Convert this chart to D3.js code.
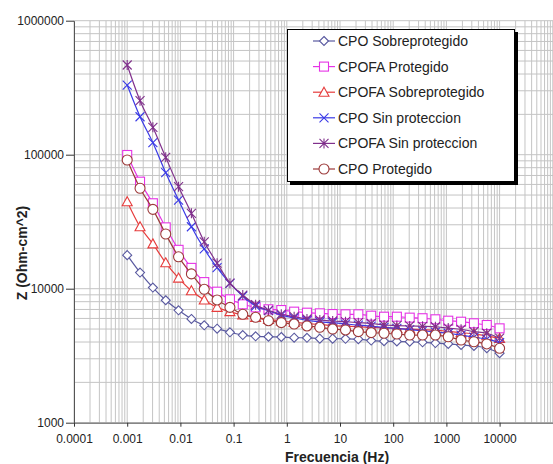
<!DOCTYPE html>
<html>
<head>
<meta charset="utf-8">
<script src="https://cdn.jsdelivr.net/npm/d3@7"></script>
<style>
body { margin: 0; background: #fff; }
text { font-family: "Liberation Sans", Arial, sans-serif; }
</style>
</head>
<body>
<div class="container"></div>
<script>
const wd = 553
const ht = 464

// frecuencias (Hz)
const freq = [0.001, 0.001743, 0.00304, 0.005298, 0.009237, 0.0161, 0.02807, 0.04894, 0.08532, 0.1487,
  0.2593, 0.452, 0.788, 1.374, 2.395, 4.175, 7.279, 12.69, 22.12, 38.57,
  67.24, 117.2, 204.3, 356.2, 621, 1083, 1888, 3292, 5738, 10000]

const cpoSobre = [17800, 13200, 10200, 8200, 6900, 5950, 5330, 5030, 4730, 4510,
  4410, 4380, 4360, 4310, 4300, 4240, 4240, 4230, 4200, 4100,
  4060, 4040, 4020, 3980, 3930, 3870, 3800, 3740, 3600, 3300]
const cpofaProt = [99500, 62900, 43400, 28700, 19500, 14300, 11200, 9500, 8330, 7650,
  7260, 7020, 6930, 6740, 6620, 6550, 6470, 6440, 6440, 6290,
  6180, 6180, 6080, 6020, 5910, 5770, 5670, 5520, 5360, 5060]
const cpofaSobre = [44600, 29000, 21600, 15600, 12000, 9660, 8240, 7260, 6740, 6370,
  6100, 5900, 5750, 5600, 5500, 5400, 5300, 5250, 5200, 5150,
  5100, 5050, 5000, 4950, 4900, 4800, 4700, 4600, 4450, 4250]
const cpoSin = [331000, 192000, 123000, 73400, 45900, 29000, 19800, 14350, 10970, 8820,
  7430, 6850, 6350, 6050, 5800, 5650, 5580, 5450, 5350, 5250,
  5150, 5050, 4950, 4850, 4750, 4650, 4500, 4350, 4200, 3950]
const cpofaSin = [467000, 253000, 160000, 95600, 57700, 36500, 22400, 15500, 11000, 8970,
  7600, 6900, 6450, 6180, 5940, 5840, 5740, 5670, 5580, 5500,
  5360, 5310, 5270, 5240, 5200, 5080, 4980, 4780, 4650, 4270]
const cpoProt = [91300, 56200, 39100, 25600, 17300, 12900, 9900, 8240, 7260, 6440,
  6120, 5770, 5580, 5450, 5270, 5150, 5000, 4920, 4780, 4700,
  4650, 4590, 4510, 4510, 4510, 4380, 4140, 4020, 3870, 3590]

const seriesNames = ["CPO Sobreprotegido", "CPOFA Protegido", "CPOFA Sobreprotegido",
  "CPO Sin proteccion", "CPOFA Sin proteccion", "CPO Protegido"]
const seriesVals = [cpoSobre, cpofaProt, cpofaSobre, cpoSin, cpofaSin, cpoProt]
const seriesCols = ["#5a5aa0", "#e633e6", "#e63c3c", "#3a3ae6", "#80308c", "#9c3a3a"]
const seriesMarks = ["diamond", "square", "triangle", "x", "star", "circle"]

const xTicks = [0.0001, 0.001, 0.01, 0.1, 1, 10, 100, 1000, 10000]
const xLabels = ["0.0001", "0.001", "0.01", "0.1", "1", "10", "100", "1000", "10000"]
const yTicks = [1000, 10000, 100000, 1000000]
const yLabels = ["1000", "10000", "100000", "1000000"]

const svgC = d3.select(".container")
.append("svg")
.attr("width", wd)
.attr("height", ht)

const xScale = d3.scaleLog().domain([1e-4, 1e6]).range([74, 606])
const yScale = d3.scaleLog().domain([1e3, 1e6]).range([422.7, 20.7])

// minor + major grid
let xGrid = [], yGrid = []
for (let e = -4; e < 6; e++) for (let k = 1; k < 10; k++) xGrid.push(k * Math.pow(10, e))
for (let e = 3; e < 6; e++) for (let k = 1; k < 10; k++) yGrid.push(k * Math.pow(10, e))
yGrid.push(1e6)

const grid = svgC.append("g")
grid.selectAll(".vg").data(xGrid).enter().append("line")
.attr("x1", d => xScale(d)).attr("x2", d => xScale(d))
.attr("y1", yScale(1e6)).attr("y2", yScale(1e3))
.style("stroke", "#c4c4c4").style("stroke-width", "1px")
grid.selectAll(".hg").data(yGrid).enter().append("line")
.attr("x1", xScale(1e-4)).attr("x2", xScale(1e6))
.attr("y1", d => yScale(d)).attr("y2", d => yScale(d))
.style("stroke", "#c4c4c4").style("stroke-width", "1px")

// axes
const xAxis = d3.axisBottom(xScale).tickValues(xTicks).tickFormat((d, i) => xLabels[i]).tickSize(4).tickSizeOuter(0)
const yAxis = d3.axisLeft(yScale).tickValues(yTicks).tickFormat((d, i) => yLabels[i]).tickSize(8).tickSizeOuter(0)

const gx = svgC.append("g").attr("transform", `translate(0,${yScale(1e3)})`).call(xAxis)
gx.select(".domain").attr("stroke", "#555")
gx.selectAll(".tick line").attr("stroke", "#333")
gx.selectAll(".tick text").attr("font-size", 12).attr("fill", "#222").attr("dy", "1.1em")

const gy = svgC.append("g").attr("transform", `translate(${xScale(1e-4)},0)`).call(yAxis)
gy.select(".domain").attr("stroke", "#555")
gy.selectAll(".tick line").attr("stroke", "#333")
gy.selectAll(".tick text").attr("font-size", 12).attr("fill", "#222").attr("x", -10)

svgC.append("text")
.attr("x", 337).attr("y", 462)
.attr("text-anchor", "middle")
.attr("font-size", 14).attr("font-weight", "bold").attr("fill", "#222")
.text("Frecuencia  (Hz)")

svgC.append("text")
.attr("transform", "translate(27,253) rotate(-90)")
.attr("text-anchor", "middle")
.attr("font-size", 14).attr("font-weight", "bold").attr("fill", "#222")
.text("Z (Ohm-cm^2)")

// markers
function drawMark(g, type, col) {
  if (type == "diamond") {
    g.append("path").attr("d", "M0,-4.5L4.5,0L0,4.5L-4.5,0Z").attr("fill", "#fff").attr("stroke", col)
  } else if (type == "square") {
    g.append("rect").attr("x", -4.5).attr("y", -4.5).attr("width", 9).attr("height", 9).attr("fill", "#fff").attr("stroke", col)
  } else if (type == "triangle") {
    g.append("path").attr("d", "M0,-5L5,4L-5,4Z").attr("fill", "#fff").attr("stroke", col)
  } else if (type == "x") {
    g.append("path").attr("d", "M-4.5,-4.5L4.5,4.5M4.5,-4.5L-4.5,4.5").attr("stroke", col)
  } else if (type == "star") {
    g.append("path").attr("d", "M-4.5,-4.5L4.5,4.5M4.5,-4.5L-4.5,4.5M0,-5L0,5").attr("stroke", col)
  } else {
    g.append("circle").attr("r", 5).attr("fill", "#fff").attr("stroke", col)
  }
}

const lineObj = d3.line()
.x(d => xScale(d.f))
.y(d => yScale(d.z))
.curve(d3.curveMonotoneX)

for (let s = 0; s < seriesVals.length; s++) {
  const pts = freq.map((f, i) => ({f: f, z: seriesVals[s][i]}))
  const col = seriesCols[s]
  svgC.append("path")
  .attr("d", lineObj(pts))
  .attr("fill", "none")
  .style("stroke", col)
  .style("stroke-width", "1.2px")
  pts.forEach(p => {
    const g = svgC.append("g").attr("transform", `translate(${xScale(p.f)},${yScale(p.z)})`)
    .style("stroke-width", "1.1px")
    drawMark(g, seriesMarks[s], col)
  })
}

// legend
const lg = svgC.append("g")
lg.append("rect").attr("x", 290).attr("y", 32).attr("width", 228).attr("height", 153).attr("fill", "#000")
lg.append("rect").attr("x", 287.5).attr("y", 29.5).attr("width", 227).attr("height", 152)
.attr("fill", "#fff").attr("stroke", "#000").attr("stroke-width", 1)

seriesNames.forEach((n, i) => {
  const yy = 41 + i * 25.6
  lg.append("line").attr("x1", 313).attr("x2", 335).attr("y1", yy).attr("y2", yy)
  .style("stroke", seriesCols[i]).style("stroke-width", "1.2px")
  const g = lg.append("g").attr("transform", `translate(324,${yy})`).style("stroke-width", "1.1px")
  drawMark(g, seriesMarks[i], seriesCols[i])
  lg.append("text").attr("x", 338).attr("y", yy + 5)
  .attr("font-size", 14).attr("fill", "#222")
  .text(n)
})
</script>
</body>
</html>
